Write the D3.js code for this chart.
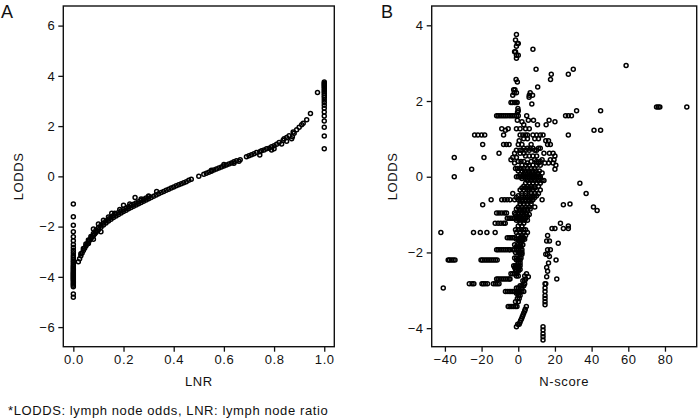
<!DOCTYPE html>
<html><head><meta charset="utf-8">
<script src="https://cdn.jsdelivr.net/npm/d3@7"></script>
<style>
body{margin:0;background:#fff}
text{font-family:"Liberation Sans",Arial,Helvetica,sans-serif;fill:#111}
</style>
</head><body><svg id="c" width="700" height="420"></svg>
<script>
// ---------- Panel A data ----------
// LODDS values of the vertical column at LNR = 0
const lnrZeroLodds = [-1.10,-1.61,-1.95,-2.20,-2.40,-2.56,-2.71,-2.83,-2.94,-3.04,-3.14,-3.22,-3.30,-3.37,-3.43,-3.50,-3.56,-3.61,-3.66,-3.71,-3.76,-3.81,-3.85,-3.89,-3.93,-3.97,-4.01,-4.05,-4.09,-4.13,-4.18,-4.23,-4.28,-4.33,-4.39,-4.68,-4.81];
// LODDS values of the vertical column at LNR = 1
const lnrOneLodds = [1.10,1.61,1.95,2.20,2.40,2.56,2.71,2.83,2.94,3.04,3.14,3.22,3.30,3.37,3.43,3.50,3.56,3.61,3.66,3.71,3.76];
// main curve (LNR, LODDS)
const curveLnr = [0.020,0.025,0.030,0.035,0.040,0.045,0.050,0.055,0.060,0.065,0.070,0.075,0.080,0.085,0.090,0.095,0.100,0.110,0.120,0.130,0.140,0.150,0.160,0.170,0.180,0.190,0.200,0.210,0.220,0.230,0.240,0.250,0.260,0.270,0.280,0.290,0.300,0.310,0.320,0.330,0.340,0.350,
 0.030,0.040,0.050,0.060,0.070,0.080,0.090,0.100,0.110,0.120,0.130,0.140,0.150,0.160,0.170,0.180,0.190,0.200,0.210,0.220,0.230,0.240,0.250,0.260,0.270,0.280,0.290,0.300,
 0.080,0.100,0.120,0.140,0.165,0.200,0.153,0.246,0.270,0.300,0.332,0.185,0.225,0.060,0.080,0.110,
 0.360,0.370,0.380,0.390,0.400,0.410,0.420,0.430,0.440,0.450,0.460,0.470,0.500,
 0.520,0.530,0.540,0.550,0.560,0.570,0.580,0.590,0.600,0.610,0.620,0.630,0.640,0.650,0.665,0.600,0.640,0.660,0.550,
 0.690,0.700,0.710,0.720,0.730,0.743,0.743,0.750,0.760,0.770,0.780,0.790,0.800,0.810,0.820,0.830,0.836,0.840,0.850,0.860,0.873,0.876,0.880,0.890,0.900,0.910,0.916,0.930,0.945,0.973,0.800,0.790,0.850,0.870];
const curveLodds = [-3.40,-3.28,-3.16,-3.05,-2.95,-2.86,-2.77,-2.69,-2.61,-2.54,-2.47,-2.41,-2.35,-2.29,-2.23,-2.18,-2.13,-2.03,-1.94,-1.86,-1.78,-1.71,-1.64,-1.58,-1.52,-1.46,-1.40,-1.35,-1.29,-1.24,-1.19,-1.14,-1.09,-1.04,-0.99,-0.94,-0.89,-0.84,-0.79,-0.74,-0.69,-0.64,
 -3.08,-2.87,-2.69,-2.53,-2.39,-2.27,-2.15,-2.05,-1.95,-1.86,-1.78,-1.70,-1.63,-1.56,-1.50,-1.44,-1.38,-1.32,-1.27,-1.21,-1.16,-1.11,-1.06,-1.01,-0.96,-0.91,-0.86,-0.81,
 -2.10,-1.90,-1.75,-1.62,-1.47,-1.15,-1.47,-0.84,-0.90,-0.78,-0.60,-1.32,-1.10,-2.67,-2.50,-2.20,
 -0.60,-0.55,-0.51,-0.46,-0.42,-0.37,-0.33,-0.29,-0.25,-0.21,-0.16,-0.12,0.00,
 0.08,0.12,0.16,0.20,0.25,0.29,0.33,0.37,0.41,0.45,0.49,0.53,0.58,0.62,0.66,0.47,0.52,0.60,0.24,
 0.78,0.82,0.86,0.90,0.95,0.98,0.85,1.02,1.05,1.10,1.12,1.18,1.22,1.28,1.35,1.29,1.44,1.50,1.55,1.62,1.58,1.77,1.72,1.85,1.95,2.05,2.11,2.25,2.50,3.34,1.10,1.05,1.40,1.50];

// ---------- Panel B data (rows of equal LODDS, with the N-scores on each row) ----------
const bLevels = [3.76,3.61,3.52,3.45,3.37,3.30,3.21,3.13,2.94,2.84,2.71,2.57,2.50,2.37,2.30,2.22,2.15,2.10,1.96,1.92,1.84,1.80,1.74,1.70,1.61,1.49,1.45,1.37,1.27,1.23,1.10,1.00,0.95,0.85,0.75,0.62,0.55,0.51,0.45,0.36,0.30,0.22,0.20,0.10,0.00,-0.10,-0.17,-0.25,-0.35,-0.44,-0.55,-0.61,-0.72,-0.74,-0.80,-0.89,-0.96,-1.05,-1.10,-1.23,-1.30,-1.37,-1.47,-1.55,-1.61,-1.70,-1.76,-1.85,-1.93,-2.05,-2.11,-2.20,-2.28,-2.40,-2.50,-2.56,-2.64,-2.70,-2.83,-2.94,-3.03,-3.14,-3.22,-3.30,-3.38,-3.43,-3.50,-3.60,-3.70,-3.80,-3.90,-3.96,-4.05,-4.15,-4.23,-4.31];
const bScores = [
 [-1],[-1.5],[-0.5,0],[-1],[8.0],[-2,-1.5],[-1,0],[-1],[58.8],[9.7,30],[18,27.3],[17.6,-1.2],[-0.5],[10.6],[-2.5,-1.8],[-2.2,-1,6.5],[-3,7.8,6],[5.9],
 [-4,-3.2,-2,-1.2,-0.6],[7.4],[75.4,76.3,77.2,91.9],[-0.2],[44.9,31.8,0],[-0.4],
 [-11.8,-11,-10,-9,-8,-7,-6,-5,-4,-3,-2,-1,0,25.8,27.3,29,4.6],
 [5.5,8.3,16.8,-0.5],[20,2],[10.5,15.2,3],[-9,-5.5,-1,1,4,6],[41.3,44.9,-7],
 [-23.8,-22,-20,-18.3,27.3,-8,1,2.5,4,5,8,10,12,13.5],[3,5,9,11],[0.5,15,16.5],
 [-19.4,-8,-6.5,-5,0,2,7,16,17.5],[3,5,6.5,8,11,12],[-10.5,-2,1,3,14,17,19],[4,6,8,10,20],
 [-34.9,-18.7,-3,-1],[-4,9,13,17.5,19.5],[-2,5,11,14.5,16.5,19],[2,4,6,8,10,12,20.5],
 [-1.5,-0.5,0.5,1.5,3,5,7,9],[-25.4,20],[4,6,8,10.5,13],
 [-34.9,-1,0,1,2,3,4,5,6,7,8,9,10,11,12],[5,7,9,11,13,14],[33.6,4,6,8,10,12],[3,5,7,9,11],
 [1,3,5,6,8,10,12],[37,-3,2,4,7,9,11],[-1,3,5,7,9],[-14.8,-9,-7.5,-6,-4.5,-2,0,2,4,6,8,13],
 [28.2,1,3,5,7],[-19.4,24.6],[41,0,2,4,6,9],[43,1,3,5],[-11.8,-10.5,-9,-7.5,-6.4,-2,0,2,4],
 [-1,1,3,5],[-6,-5,-4,-3,-2,-1,0,1,2,3,4],[-12.6,-11,-9.5,-8,-7.1,1,3,23],[0,2,27.3],
 [18.4,20,24.6,27.3],[-42.2,-24.4,-20.7,-17.1,-12.6,-1,1,3,5],[0,2,4,16],[-6,-5,-4,-3,-2,1,2,3],
 [15.5,17,0.5,2],[21.8,1.5],[-1,0.5,1.5],
 [-11.8,-11,-10,-9,-8,-7,-6,-5,-4.5,-3,-2,-1,0,1,2,16,17.5],[1,2,15,16],[17],
 [-38.2,-37.5,-36.5,-35.5,-34.5,-20.3,-19.5,-18.5,-17.5,-16.5,-15.5,-14.5,-13.5,-12.5,-11.5,-1,0,1,20.6],
 [0,1,16.5],[-2,-1,0,0.5,15.5],[-1,0,16],[-4,-3,-2,-1,4.5],[5.5,15.5],
 [-11.8,-11,-10,-9,-8,-7,-6,-5,-4.5,21,4],
 [-26.7,-25.2,-24.2,-19.8,-19,-18,-16.8,-13.6,-12.5,-11.5,-10.5,3.5,14.6,15],
 [-40.9,-1,0,1,2,14.6],[-7,-6,-5,-4,-3,-2,-1,0,1,2,3,14.6],[0,1,14.6],[-0.5,0.5,14.6],[14.6],[14.6],
 [-5.5,-4.5,-3.5,-2.5,-1.5,-0.7,4.4],[3.8],[3],[2.2],[1.3],[-0.3,0.5],[-1,13.5],[13.5],[13.5],[13.5],[13.5]
];
// extra rows filling the dense central band of panel B
const bBandLevels = [0.70,0.40,0.15,0.05,-0.05,-0.30,-0.50,-0.65,-0.85,-1.00,-1.15,-1.40,-1.65,-1.80,-2.00,-2.15,-2.35,-2.45,-2.62,-2.75,-2.88,-3.08,-3.30,-3.55,-3.65,-3.75,-3.85];
const bBandScores = [
 [-1,1,2,4,6,9,10],[0,1.5,3,7,10,12],[0,2,3.5,5.5,7.5,9.5,11.5],[1,3,5,7,9,11],[2,4,6,8,10,12],
 [2,4,6,7.5,9],[0,2,4,6,8,10],[1,2.5,4,5.5,7],[-1,0.5,2,3.5,5,6.5],[-1.5,0,1.5,3,4.5,6],
 [-1,0.5,2,3.5,5],[-1.5,0,1.5,3,4],[-1,0,1,2.5,3.5],[-2,-0.5,1,2.5],[-1.5,0,1,2],
 [-2,-1,0.5,1.5],[-2.5,-1.5,0,1],[-1.5,0,1],[-1,0,3.5],[2.5,3.5],[1,2,3],[-1,0],[-1.5,0],
 [3.5],[2.6],[1.8],[0.9]
];

// ---------- ticks and labels ----------
const aXTicks = [0,0.2,0.4,0.6,0.8,1.0];
const aYTicks = [-6,-4,-2,0,2,4,6];
const bXTicks = [-40,-20,0,20,40,60,80];
const bYTicks = [-4,-2,0,2,4];
const footnote = "*LODDS: lymph node odds, LNR: lymph node ratio";

// build point tables
const pointsA = [];
lnrZeroLodds.forEach(v => pointsA.push([0, v]));
lnrOneLodds.forEach(v => pointsA.push([1, v]));
curveLnr.forEach((x, i) => pointsA.push([x, curveLodds[i]]));
const pointsB = [];
bLevels.forEach((l, i) => bScores[i].forEach(n => pointsB.push([n, l])));
bBandLevels.forEach((l, i) => bBandScores[i].forEach(n => pointsB.push([n, l])));

const svg = d3.select("#c");

function panel(opts) {
  const {left, right, top, bottom, xDom, yDom, pts, xt, yt, xf, letter, letterX, xlab, ylabX} = opts;
  const x = d3.scaleLinear().domain(xDom).range([left, right]);
  const y = d3.scaleLinear().domain(yDom).range([bottom, top]);
  const g = svg.append("g");
  const ax = g.append("g").attr("transform", `translate(0,${bottom})`)
    .call(d3.axisBottom(x).tickValues(xt).tickFormat(xf).tickSize(5).tickPadding(3));
  const ay = g.append("g").attr("transform", `translate(${left},0)`)
    .call(d3.axisLeft(y).tickValues(yt).tickFormat(d3.format("d")).tickSize(5).tickPadding(3));
  [ax, ay].forEach(a => {
    a.select(".domain").remove();
    a.selectAll("line").attr("stroke", "#111").attr("stroke-width", 1.3);
    a.selectAll("text").attr("font-size", 13).attr("letter-spacing", "0.6px")
      .style("font-family", '"Liberation Sans",Arial,sans-serif').attr("fill", "#111");
  });
  g.append("rect").attr("x", left).attr("y", top).attr("width", right - left).attr("height", bottom - top)
    .attr("fill", "none").attr("stroke", "#111").attr("stroke-width", 1.4);
  g.append("g").selectAll("circle").data(pts).join("circle")
    .attr("cx", d => x(d[0])).attr("cy", d => y(d[1])).attr("r", 2.0)
    .attr("fill", "none").attr("stroke", "#000").attr("stroke-width", 1.5);
  g.append("text").attr("x", letterX).attr("y", 18).attr("font-size", 18).text(letter);
  g.append("text").attr("x", (left + right) / 2).attr("y", 386).attr("text-anchor", "middle")
    .attr("font-size", 13).attr("letter-spacing", "0.6px").text(xlab);
  g.append("text").attr("transform", `translate(${ylabX},${(top + bottom) / 2}) rotate(-90)`)
    .attr("text-anchor", "middle").attr("font-size", 13).attr("letter-spacing", "0.6px").text("LODDS");
}

panel({left: 63.3, right: 334.3, top: 6, bottom: 346.7, xDom: [-0.04, 1.04], yDom: [-6.78, 6.78],
  pts: pointsA, xt: aXTicks, yt: aYTicks, xf: d3.format(".1f"), letter: "A", letterX: 1, xlab: "LNR", ylabX: 23});
panel({left: 431.7, right: 696.7, top: 6, bottom: 346.7, xDom: [-47.2, 97.3], yDom: [-4.49, 4.51],
  pts: pointsB, xt: bXTicks, yt: bYTicks, xf: d3.format("d"), letter: "B", letterX: 381, xlab: "N-score", ylabX: 397});

svg.append("text").attr("x", 8).attr("y", 415).attr("font-size", 13).attr("letter-spacing", "0.6px").text(footnote);
</script>
</body></html>
